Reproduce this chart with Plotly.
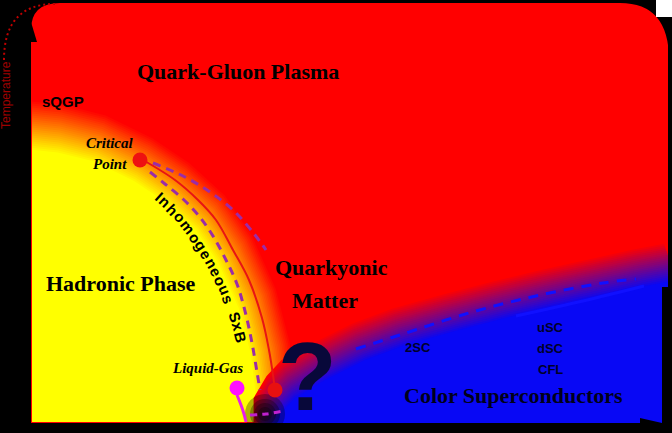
import math
import plotly.graph_objects as go

# ---- data (pixel-like units, y grows downward) ----
# hadron / QGP crossover (centre of the yellow-red blend)
crossover_x = [32, 60, 100, 143, 177, 210, 235, 257, 270, 275, 277]
crossover_y = [126, 129, 139, 160, 183, 213, 250, 299, 349, 391, 422]

# first order line (red, solid)
red_line_x = [143, 175, 198, 216, 233, 249, 262, 269, 273, 275]
red_line_y = [160, 180, 200, 220, 250, 280, 318, 350, 375, 391]

# inhomogeneous phase borders (purple, dashed)
inner_dash_x = [150, 165, 183, 199, 213, 226, 237, 246, 252, 257, 260]
inner_dash_y = [172, 184, 199, 216, 236, 260, 284, 315, 343, 372, 390]
outer_dash_x = [153, 183, 210, 235, 255, 266]
outer_dash_y = [163, 176, 192, 212, 235, 250]
low_dash_x = [250, 266, 283]
low_dash_y = [415, 414, 411]

# quarkyonic / colour superconductor border (centre of the red-blue blend)
csc_x = [262, 275, 290, 320, 360, 400, 450, 500, 550, 600, 640, 672]
csc_y = [422, 400, 384, 366, 346, 331, 317, 304, 292, 281, 272, 266]

blue_dash_x = [356, 403, 469, 536, 603, 636]
blue_dash_y = [349, 334, 313, 296, 283, 279]
blue_solid_x = [516, 583, 644]
blue_solid_y = [316, 301, 286]

# liquid-gas line
lg_line_x = [237, 241, 244, 246]
lg_line_y = [395, 405, 414, 422]

points_x = [140, 275, 237]
points_y = [160, 390, 388]
points_col = ["#ee1111", "#e81010", "#ff10ff"]

ORIGIN = (32, 422)

shapes = []


def path(pts, close=True):
    s = "M " + " L ".join(f"{x:.1f},{y:.1f}" for x, y in pts)
    return s + (" Z" if close else "")


# yellow hadronic region blending into the red plasma
n = 26
for i in range(n):
    t = i / (n - 1)
    sc = 1.09 - 0.17 * t
    pts = [ORIGIN] + [(ORIGIN[0] + sc * (x - ORIGIN[0]), ORIGIN[1] - sc * (ORIGIN[1] - y))
                      for x, y in zip(crossover_x, crossover_y)]
    col = f"rgb(255,{int(255 * t)},0)"
    shapes.append(dict(type="path", path=path(pts), fillcolor=col, line_width=0, layer="below"))

# blue superconducting region blending into red
n = 22
for i in range(n):
    t = i / (n - 1)
    d = -24 + 38 * t
    pts = [(csc_x[0] + 0.35 * d, 433)]
    pts += [(x + 0.35 * d, y + d) for x, y in zip(csc_x, csc_y)]
    pts += [(680, 433)]
    col = f"rgb({int(255 * (1 - t) + 8 * t)},{int(8 * t)},{int(245 * t)})"
    shapes.append(dict(type="path", path=path(pts), fillcolor=col, line_width=0, layer="below"))

# dark smudge where the phases meet
for r in [20, 15, 11, 7]:
    shapes.append(dict(type="circle", x0=265 - r, x1=265 + r, y0=414 - r, y1=414 + r,
                       fillcolor="rgba(5,3,0,0.3)", line_width=0, layer="below"))

# frame
blk = dict(fillcolor="black", line_width=0, layer="above")
shapes += [
    dict(type="rect", x0=0, x1=31, y0=0, y1=433, **blk),
    dict(type="rect", x0=0, x1=672, y0=423, y1=433, **blk),
    dict(type="rect", x0=662, x1=672, y0=287, y1=433, **blk),
    dict(type="rect", x0=668, x1=672, y0=40, y1=287, **blk),
    dict(type="rect", x0=0, x1=640, y0=0, y1=3, **blk),
    dict(type="path", path="M 31,0 L 60,0 L 60,3 Q 31,3 31,30 Z", **blk),
    dict(type="path", path="M 620,0 L 672,0 L 672,60 L 669,60 Q 669,3 620,3 Z", **blk),
    dict(type="path", path="M 31,22 L 37,42 L 31,42 Z", **blk),
    dict(type="path", path="M 640,418 L 662,423 L 640,426 Z", **blk),
    dict(type="rect", x0=656, x1=672, y0=0, y1=17, fillcolor="white", line_width=0, layer="above"),
    dict(type="path", path="M 4,60 Q 4,4 55,4", line=dict(color="#c00000", width=2, dash="2px,3px"),
         layer="above"),
]

fig = go.Figure()


def line(x, y, color, width, dash="solid"):
    fig.add_trace(go.Scatter(x=x, y=y, mode="lines", hoverinfo="skip",
                             line=dict(color=color, width=width, dash=dash, shape="spline")))


line(red_line_x, red_line_y, "#e81414", 2)
line(inner_dash_x, inner_dash_y, "#9a2ca8", 3, "8px,6px")
line(outer_dash_x, outer_dash_y, "#9a2ca8", 3, "8px,6px")
line(low_dash_x, low_dash_y, "#c020d0", 3, "7px,5px")
line(blue_dash_x, blue_dash_y, "#1010ff", 3, "10px,8px")
line(blue_solid_x, blue_solid_y, "#1010ff", 3)
line(lg_line_x, lg_line_y, "#e81ee8", 3)

fig.add_trace(go.Scatter(x=points_x, y=points_y, mode="markers", hoverinfo="skip",
                         marker=dict(size=15, color=points_col, line_width=0)))

SERIF = "Liberation Serif"
SANS = "Liberation Sans"
ann = []


def label(text, x, y, size, family=SERIF, color="black", xanchor="center", angle=0):
    ann.append(dict(text=text, x=x, y=y, xref="x", yref="y", showarrow=False, xanchor=xanchor,
                    yanchor="middle", textangle=angle,
                    font=dict(family=family, size=size, color=color)))


label("<b>Quark-Gluon Plasma</b>", 238, 71, 22)
label("<b>sQGP</b>", 40, 101, 15, SANS, xanchor="left")
label("<b><i>Critical</i></b>", 110, 143, 15)
label("<b><i>Point</i></b>", 110, 164, 15)
label("<b>Hadronic Phase</b>", 121, 283, 22)
label("<b>Quarkyonic</b>", 331, 267, 22)
label("<b>Matter</b>", 325, 300, 22)
label("<b><i>Liquid-Gas</i></b>", 207, 368, 15)
label("<b>?</b>", 307, 376, 96, SANS, color="#08083a")
label("<b>2SC</b>", 418, 347, 13, SANS, color="#00002a")
label("<b>uSC</b>", 550, 327, 13, SANS, color="#00002a")
label("<b>dSC</b>", 550, 348, 13, SANS, color="#00002a")
label("<b>CFL</b>", 550, 369, 13, SANS, color="#00002a")
label("<b>Color Superconductors</b>", 513, 395, 22, color="#00001a")
label("Temperature", 6, 95, 12, SANS, color="#a00000", angle=-90)

# curved label along the inhomogeneous band
widths = {"I": .278, "n": .611, "h": .611, "o": .611, "m": .889, "g": .611, "e": .556,
          "u": .611, "s": .556, " ": .5, "S": .667, "x": .556, "B": .722}
curved = "Inhomogeneous SxB"
a_ax, b_ax = 219, 277
phis = [math.radians(55 - k * 0.05) for k in range(900)]
arc = [0.0]
for k in range(1, len(phis)):
    x0, y0 = a_ax * math.cos(phis[k - 1]), b_ax * math.sin(phis[k - 1])
    x1, y1 = a_ax * math.cos(phis[k]), b_ax * math.sin(phis[k])
    arc.append(arc[-1] + math.hypot(x1 - x0, y1 - y0))
end_k = min(range(len(phis)), key=lambda k: abs(math.degrees(phis[k]) - 16.5))
total = sum(widths[c] for c in curved)
scale = arc[end_k] / total
cum = 0.0
for c in curved:
    s = (cum + widths[c] / 2) * scale
    cum += widths[c]
    if c == " ":
        continue
    k = min(range(len(arc)), key=lambda j: abs(arc[j] - s))
    ph = phis[k]
    cx = ORIGIN[0] + a_ax * math.cos(ph)
    cy = ORIGIN[1] - b_ax * math.sin(ph)
    ang = math.degrees(math.atan2(b_ax * math.cos(ph), a_ax * math.sin(ph)))
    label(f"<b>{c}</b>", cx, cy, 15, SANS, angle=ang)

fig.update_layout(
    width=672, height=433, margin=dict(l=0, r=0, t=0, b=0),
    plot_bgcolor="#ff0000", paper_bgcolor="black", showlegend=False,
    xaxis=dict(range=[0, 672], visible=False, fixedrange=True),
    yaxis=dict(range=[433, 0], visible=False, fixedrange=True),
    shapes=shapes, annotations=ann,
)

fig.write_html("out.html", config={"displayModeBar": False},
               post_script="document.body.style.margin='0';document.body.style.overflow='hidden';")
